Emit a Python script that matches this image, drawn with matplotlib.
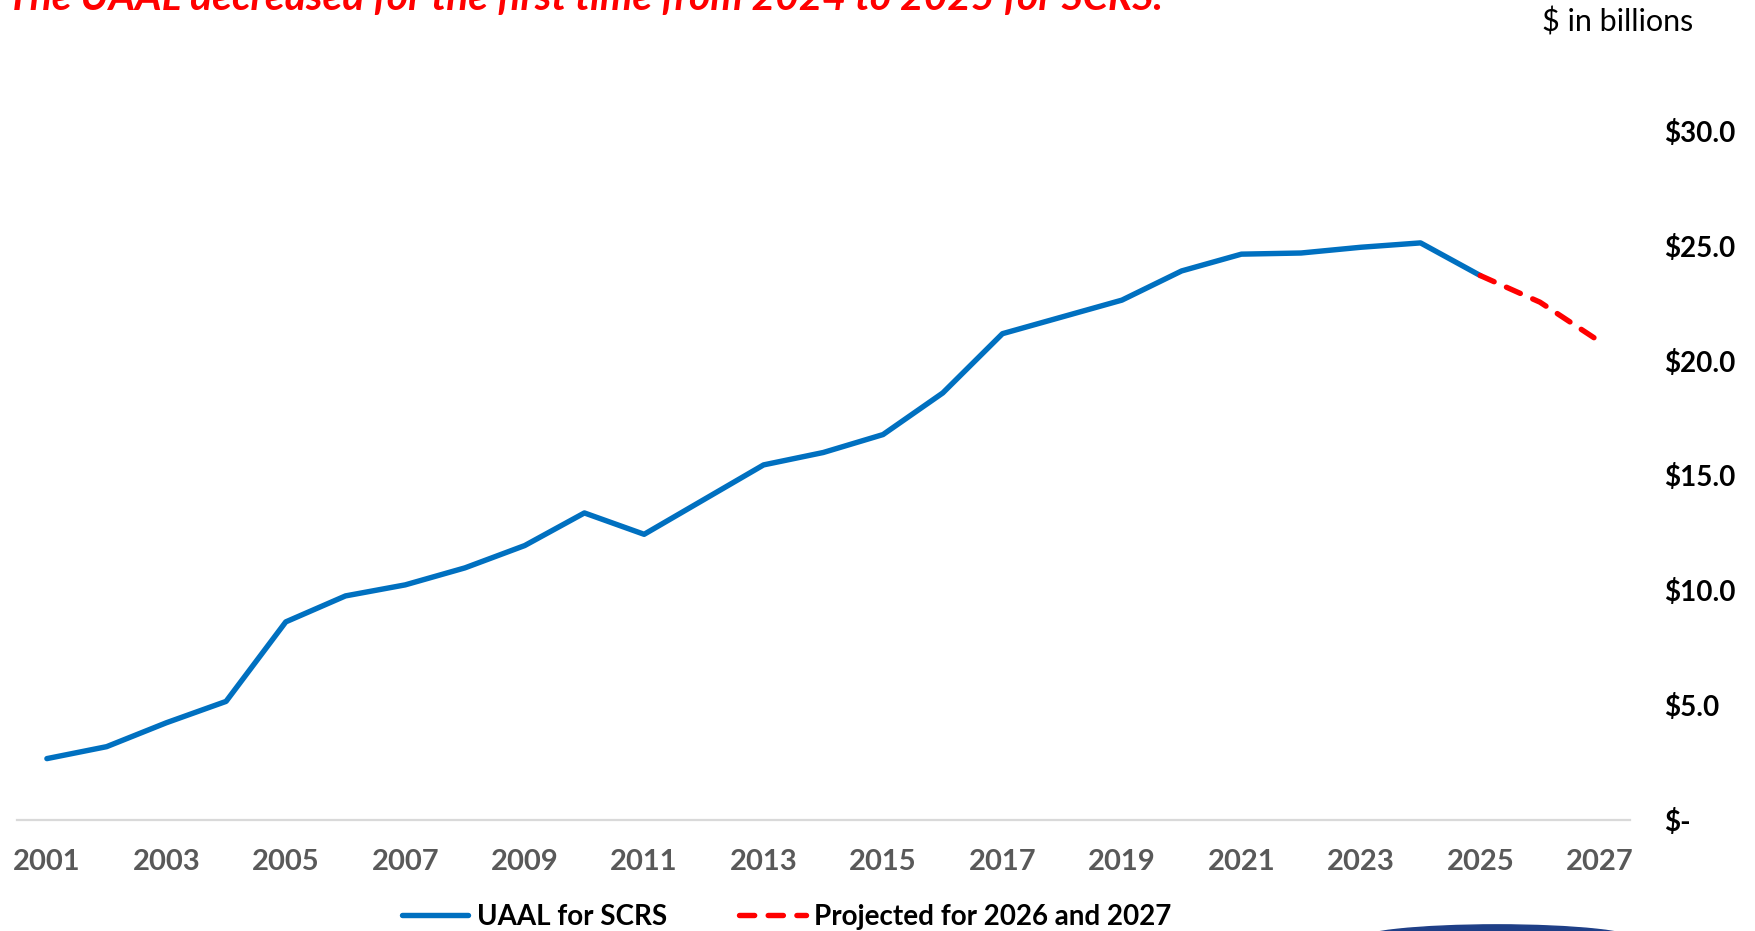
import matplotlib.pyplot as plt
from matplotlib.patches import Ellipse
from matplotlib.ticker import FuncFormatter

# UAAL for SCRS, $ in billions
years = list(range(2001, 2026))
uaal = [2.68, 3.2, 4.24, 5.17, 8.63, 9.76, 10.24, 10.98, 11.95, 13.37,
        12.44, 13.95, 15.46, 16.0, 16.78, 18.59, 21.17, 21.9, 22.63, 23.9,
        24.63, 24.68, 24.93, 25.12, 23.7]
proj_years = [2025, 2026, 2027]
proj_uaal = [23.7, 22.54, 20.83]
tick_years = list(range(2001, 2028, 2))
y_ticks = [0, 5, 10, 15, 20, 25, 30]

title = "The UAAL decreased for the first time from 2024 to 2025 for SCRS."

fig = plt.figure(figsize=(17.56, 9.31), dpi=100)
ax = fig.add_axes([0.0097, 0.119, 0.9183, 0.864])

ax.plot(years, uaal, color="#0070C0", lw=3.9, solid_capstyle="round",
        label="UAAL for SCRS")
ax.plot(proj_years, proj_uaal, color="#FF0000", lw=3.9, ls=(0, (2.8, 2.5)),
        dash_capstyle="round", label="Projected for 2026 and 2027")

ax.set_xlim(2000.5, 2027.5)
ax.set_ylim(0, 35)
ax.set_xticks(tick_years)
ax.set_yticks(y_ticks)
ax.yaxis.tick_right()
ax.yaxis.set_major_formatter(
    FuncFormatter(lambda v, p: "$-" if v == 0 else f"${v:.1f}"))

for s in ["top", "left", "right"]:
    ax.spines[s].set_visible(False)
ax.spines["bottom"].set_color("#D9D9D9")
ax.spines["bottom"].set_linewidth(1.6)

ax.tick_params(axis="both", length=0)
ax.tick_params(axis="y", pad=25)
ax.tick_params(axis="x", pad=21)
for lab in ax.get_yticklabels():
    lab.set_family("Lato")
    lab.set_fontweight("bold")
    lab.set_fontsize(20)
for lab in ax.get_xticklabels():
    lab.set_family("Lato")
    lab.set_fontweight("bold")
    lab.set_fontsize(21)
    lab.set_color("#595959")

fig.text(0.004, 1 - 10 / 931, title, color="#FF0000", fontsize=29.3,
         fontweight="bold", fontstyle="italic", family="Lato",
         va="baseline", ha="left")
fig.text(0.921, 1 - 22 / 931, "$ in billions", fontsize=22, family="Lato",
         va="center", ha="center")

leg = fig.legend(loc="center", bbox_to_anchor=(0.448, 0.015), ncol=2,
                 frameon=False, handlelength=2.4, handletextpad=0.3,
                 columnspacing=2.6,
                 prop={"family": "Lato", "weight": "bold", "size": 20})

# bit of the logo peeking in at the bottom right
fig.add_artist(Ellipse((0.8525, -0.0095), 0.16, 0.0322,
                       transform=fig.transFigure, color="#1F3F87", zorder=0))

fig.savefig("out.png", dpi=100)
